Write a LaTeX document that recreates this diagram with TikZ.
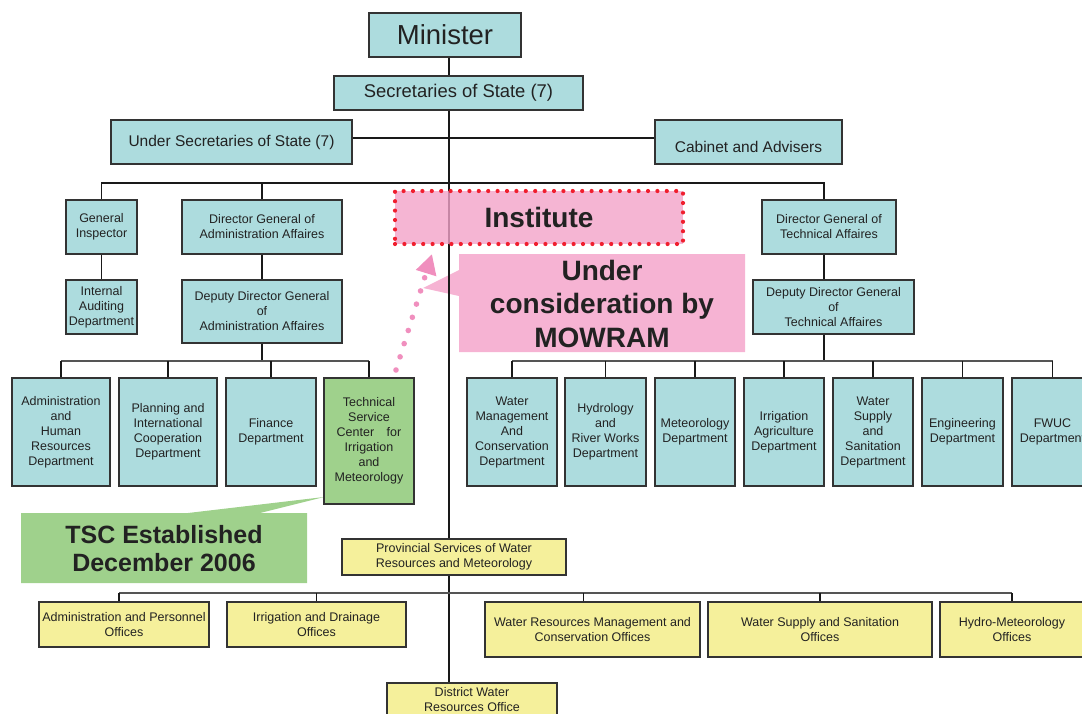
\documentclass[tikz,border=0pt]{standalone}
\usepackage{fontspec}
\setmainfont{Liberation Sans}
\usetikzlibrary{arrows.meta}

\definecolor{boxteal}{HTML}{ADDCDE}
\definecolor{boxline}{HTML}{333333}
\definecolor{boxyellow}{HTML}{F5F09B}
\definecolor{boxgreen}{HTML}{9FD18C}
\definecolor{instpink}{HTML}{F2A2C8}
\definecolor{notepink}{HTML}{F6B3D3}
\definecolor{dotred}{HTML}{F01E2E}
\definecolor{arrowpink}{HTML}{F08FBE}
\definecolor{txt}{HTML}{222222}
\definecolor{busgray}{HTML}{555555}

\begin{document}
\begin{tikzpicture}[x=1pt,y=-1pt,
  base/.style={draw=boxline, line width=1.3pt, text=txt, align=center,
    inner sep=0pt, anchor=center},
  tbox/.style={base, fill=boxteal, font=\fontsize{12.5}{15}\selectfont},
  ybox/.style={base, fill=boxyellow, font=\fontsize{12.5}{15.5}\selectfont},
  gbox/.style={base, fill=boxgreen, font=\fontsize{12.5}{15}\selectfont},
  bigtxt/.style={text=txt, align=center, inner sep=0pt, font=\fontsize{15.5}{18}\selectfont},
  conn/.style={draw=black!90, line width=1.1pt},
  bus/.style={draw=busgray, line width=1.8pt},
  notetxt/.style={text=txt, align=center, inner sep=0pt},
  instbox/.style={fill=instpink, fill opacity=0.8, text opacity=1, draw=dotred,
    draw opacity=1, line width=4.2pt, line cap=round, dash pattern=on 0pt off 9.4pt,
    text=txt, inner sep=0pt, font=\fontsize{28}{33}\selectfont\bfseries},
  pinkdots/.style={draw=arrowpink, line width=5.6pt, line cap=round,
    dash pattern=on 0pt off 13.8pt,
    -{Triangle[length=20pt,width=20pt,fill=arrowpink]}}
]
\useasboundingbox (0,0) rectangle (1082,713);
\clip (0,0) rectangle (1082,713);

% vertical reference lines for the main trunk and the technical branch
\coordinate (T) at (449,0);
\coordinate (TT) at (824,0);

% ---------- call-out shapes (behind the chart lines) ----------
\fill[notepink] (459,254) -- (745,254) -- (745,352) -- (459,352) -- (459,296)
  -- (423,288) -- (459,270) -- cycle;
\node[notetxt, font=\fontsize{28}{33.5}\selectfont\bfseries] (uc) at (602,303.5)
  {Under\\consideration by\\MOWRAM};

\fill[boxgreen] (21,513) -- (188,513) -- (324,497) -- (260,513) -- (307,513)
  -- (307,583) -- (21,583) -- cycle;
\node[notetxt, font=\fontsize{25}{28}\selectfont\bfseries] (tscnote) at (164,549)
  {TSC Established\\December 2006};

% ---------- top of the hierarchy ----------
\node[tbox, minimum width=152pt, minimum height=44pt, font=\fontsize{27.5}{30}\selectfont]
  (min) at (445,35) {Minister};
\node[tbox, minimum width=249pt, minimum height=34pt, font=\fontsize{18.4}{22}\selectfont]
  (sec) at (458.5,93) {Secretaries of State (7)};
\node[tbox, minimum width=241pt, minimum height=44pt, font=\fontsize{15.5}{18}\selectfont]
  (usec) at (231.5,142) {Under Secretaries of State (7)};
\node[tbox, minimum width=187pt, minimum height=44pt] (cab) at (748.5,142) {};
\node[bigtxt] (cabt) at (748.5,147) {Cabinet and Advisers};

% ---------- administration branch ----------
\node[tbox, minimum width=71pt, minimum height=54pt] (gi) at (101.5,227) {General\\Inspector};
\node[tbox, minimum width=160pt, minimum height=54pt] (dga) at (262,227)
  {Director General of\\Administration Affaires};
\node[tbox, minimum width=71pt, minimum height=54pt] (ia) at (101.5,307)
  {Internal\\Auditing\\Department};
\node[tbox, minimum width=160pt, minimum height=63pt] (dda) at (262,311.5)
  {Deputy Director General\\of\\Administration Affaires};

\node[tbox, minimum width=98pt, minimum height=108pt] (ahr) at (61,432)
  {Administration\\and\\Human\\Resources\\Department};
\node[tbox, minimum width=98pt, minimum height=108pt] (pic) at (168,432)
  {Planning and\\International\\Cooperation\\Department};
\node[tbox, minimum width=90pt, minimum height=108pt] (fin) at (271,432)
  {Finance\\Department};
\node[gbox, minimum width=90pt, minimum height=126pt] (tsc) at (369,441)
  {Technical\\Service\\Center\hspace{1em}for\\Irrigation\\and\\Meteorology};

% ---------- technical branch ----------
\node[tbox, minimum width=134pt, minimum height=54pt] (dgt) at (829,227)
  {Director General of\\Technical Affaires};
\node[tbox, minimum width=161pt, minimum height=54pt] (ddt) at (833.5,307)
  {Deputy Director General\\of\\Technical Affaires};

\node[tbox, minimum width=90pt, minimum height=108pt] (wmc) at (512,432)
  {Water\\Management\\And\\Conservation\\Department};
\node[tbox, minimum width=81pt, minimum height=108pt] (hyd) at (605.5,432)
  {Hydrology\\and\\River Works\\Department};
\node[tbox, minimum width=80pt, minimum height=108pt] (met) at (695,432)
  {Meteorology\\Department};
\node[tbox, minimum width=80pt, minimum height=108pt] (irr) at (784,432)
  {Irrigation\\Agriculture\\Department};
\node[tbox, minimum width=80pt, minimum height=108pt] (wss) at (873,432)
  {Water\\Supply\\and\\Sanitation\\Department};
\node[tbox, minimum width=81pt, minimum height=108pt] (eng) at (962.5,432)
  {Engineering\\Department};
\node[tbox, minimum width=81pt, minimum height=108pt] (fwuc) at (1052.5,432)
  {FWUC\\Department};

% ---------- provincial services ----------
\node[ybox, minimum width=224pt, minimum height=36pt] (prov) at (454,557)
  {Provincial Services of Water\\Resources and Meteorology};
\node[ybox, minimum width=170pt, minimum height=45pt] (ap) at (124,624.5)
  {Administration and Personnel\\Offices};
\node[ybox, minimum width=179pt, minimum height=45pt] (id) at (316.5,624.5)
  {Irrigation and Drainage\\Offices};
\node[ybox, minimum width=215pt, minimum height=55pt] (wrm) at (592.5,629.5)
  {Water Resources Management and\\Conservation Offices};
\node[ybox, minimum width=224pt, minimum height=55pt] (wsso) at (820,629.5)
  {Water Supply and Sanitation\\Offices};
\node[ybox, minimum width=144pt, minimum height=55pt] (hmo) at (1012,629.5)
  {Hydro-Meteorology\\Offices};
\node[ybox, minimum width=170pt, minimum height=33pt] (dist) at (472,699.5)
  {District Water\\Resources Office};

% ---------- connectors ----------
\draw[conn] (min.south -| T) -- (sec.north -| T);
\draw[conn] (sec.south -| T) -- (prov.north -| T);
\draw[conn] (prov.south -| T) -- (dist.north -| T);
\draw[conn] ([yshift=4pt]usec.east) -- ([yshift=4pt]usec.east -| cab.west);

\coordinate (B1) at (449,183);
\draw[conn] (gi.north) |- (B1) -| (dgt.north -| TT);
\draw[conn] (dga.north) -- (dga.north |- B1);
\draw[conn] (gi.south) -- (ia.north);
\draw[conn] (dga.south) -- (dda.north);
\draw[conn] (dgt.south -| TT) -- (ddt.north -| TT);

\coordinate (B2) at (262,361);
\draw[conn] (dda.south) -- (B2);
\draw[bus] (ahr.north |- B2) -- (tsc.north |- B2);
\foreach \n in {ahr,pic,fin,tsc} \draw[conn] (\n.north) -- (\n.north |- B2);

\coordinate (B3) at (824,361);
\draw[conn] (ddt.south -| TT) -- (B3);
\draw[bus] (wmc.north |- B3) -- (fwuc.north |- B3);
\foreach \n in {wmc,hyd,met,irr,wss,eng,fwuc} \draw[conn] (\n.north) -- (\n.north |- B3);

\coordinate (B4) at (449,593);
\draw[bus] ([xshift=-5pt]ap.north |- B4) -- (hmo.north |- B4);
\draw[conn] ([xshift=-5pt]ap.north) -- ([xshift=-5pt]ap.north |- B4);
\draw[conn] ([xshift=-9pt]wrm.north) -- ([xshift=-9pt]wrm.north |- B4);
\foreach \n in {id,wsso,hmo} \draw[conn] (\n.north) -- (\n.north |- B4);

% ---------- institute box and the pointer towards it ----------
\node[instbox, minimum width=288pt, minimum height=53pt] (inst) at (539,217.5) {Institute};

\coordinate (pa) at (396,370);
\coordinate (pb) at (432,254);
\draw[pinkdots] (pa) -- (pb);
\end{tikzpicture}
\end{document}
